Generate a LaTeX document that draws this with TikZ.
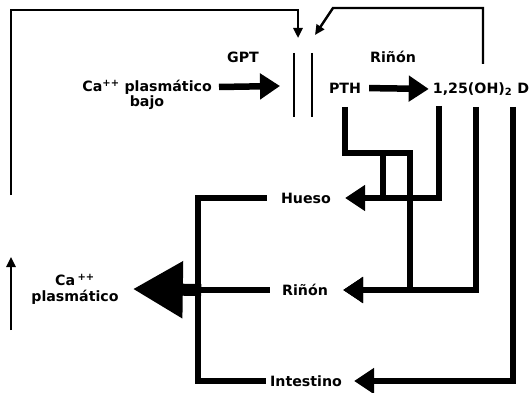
\documentclass[tikz,border=0pt]{standalone}
\usepackage{fontspec}
\setmainfont{DejaVu Sans}
\usetikzlibrary{arrows.meta}

\begin{document}
\begin{tikzpicture}[x=1pt,y=-1pt,
			 texto/.style={font=\fontsize{14.2}{15.5}\selectfont\bfseries, inner sep=2pt},
			 via/.style={line width=6.5pt},
			 flecha/.style={via, -{Triangle[length=20pt,width=25pt]}},
			 grande/.style={line width=12pt, -{Triangle[length=50pt,width=54pt]}},
			 fina/.style={line width=2.4pt, -{Triangle[length=10pt,width=9pt]}},
			 muro/.style={line width=1.6pt}
  		]
	\useasboundingbox (0,0) rectangle (530,393);

	%Textos de arriba
		\node[texto, anchor=east] (cabajo) at (214,87) {Ca\textsuperscript{++} plasmático};
		\node[texto] (bajo) at (147,103) {bajo};
		\node[texto] (gpt) at (243,57) {GPT};
		\node[texto] (rinon1) at (393,57) {Riñón};
		\node[texto] (pth) at (345,88) {PTH};
		\node[texto] (vitd) at (481,89) {1,25(OH)\textsubscript{2} D};
	%Organos
		\node[texto] (hueso) at (306,198) {Hueso};
		\node[texto] (rinon2) at (305,290) {Riñón};
		\node[texto] (intestino) at (306,381) {Intestino};
		\node[texto, align=center] (caplas) at (75,289) {Ca\,\textsuperscript{++}\\plasmático};

	%Puntos de paso
		\coordinate (mA1) at (294,53);
		\coordinate (mA2) at (294,117);
		\coordinate (mB1) at (312,53);
		\coordinate (mB2) at (312,117);
		\coordinate (muro) at (294,86);
		\coordinate (ent1) at (298,38);
		\coordinate (ent2) at (315,35);
		\coordinate (ret1) at (298,10);
		\coordinate (ret2) at (333,8);
		\coordinate (f0) at (11,195);
		\coordinate (r0) at (483,64);
		\coordinate (s0) at (11,330);
		\coordinate (s1) at (11,257);
		\coordinate (p0) at (345,107);
		\coordinate (p1) at (410,153);
		\coordinate (b1) at (383,153);
		\coordinate (d1) at (439,106);
		\coordinate (d2) at (476,107);
		\coordinate (d3) at (513,107);
		\coordinate (brk) at (198,290);

	%Barrera
		\draw[muro] (mA1) -- (mA2);
		\draw[muro] (mB1) -- (mB2);
	%Flechas principales
		\draw[flecha] ([xshift=5]cabajo.east) -- ([xshift=-14]muro);
		\draw[flecha, shorten <=6pt, shorten >=2pt] (pth.east) -- (vitd.west);
	%Retroalimentacion
		\draw[fina] (f0) |- (ret1) -- (ent1);
		\draw[fina] (r0) |- (ret2) -- (ent2);
		\draw[fina] (s0) -- (s1);
	%PTH hacia hueso y rinon
		\draw[flecha, shorten >=13pt] (p0) |- (p1) |- (rinon2.east);
		\draw[via] (b1) -- (b1 |- hueso.east);
	%1,25(OH)2 D hacia los organos
		\draw[flecha, shorten >=12pt] (d1) |- (hueso.east);
		\draw[flecha, shorten >=13pt] (d2) |- (rinon2.east);
		\draw[flecha, shorten >=10pt] (d3) |- (intestino.east);
	%Suma hacia el calcio plasmatico
		\draw[via] ([xshift=-12]hueso.west) -| (brk) |- ([xshift=-2]intestino.west);
		\draw[via] ([xshift=-10]rinon2.west) -- (brk);
		\draw[grande] ([xshift=3.25]brk) -- ([xshift=12]caplas.east);
\end{tikzpicture}
\end{document}
